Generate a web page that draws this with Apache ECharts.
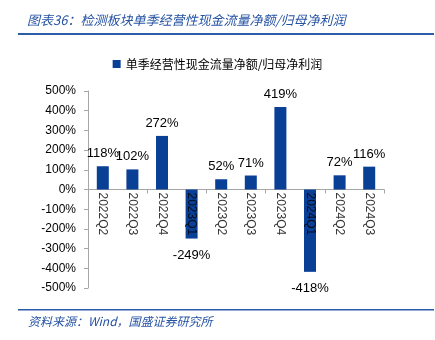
<!DOCTYPE html>
<html><head><meta charset="utf-8">
<script src="https://cdn.jsdelivr.net/npm/echarts@6/dist/echarts.min.js"></script>
<style>html,body{margin:0;padding:0;background:#fff}#c{width:435px;height:340px}</style>
</head><body><div id="c"></div>
<script>
const categories = ['2022Q2','2022Q3','2022Q4','2023Q1','2023Q2','2023Q3','2023Q4','2024Q1','2024Q2','2024Q3'];
const ratioValues = [118, 102, 272, -249, 52, 71, 419, -418, 72, 116];
const yTicks = {min: -500, max: 500, interval: 100};
const seriesName = '单季经营性现金流量净额/归母净利润';
const titleText = '图表36：检测板块单季经营性现金流量净额/归母净利润';
const sourceText = '资料来源：Wind，国盛证券研究所';

const blue = '#0A3F96';
const textBlue = '#2552A3';
const chart = echarts.init(document.getElementById('c'), null, {renderer: 'canvas'});
chart.setOption({
  animation: false,
  textStyle: {fontFamily: '"Liberation Sans", "Noto Sans CJK SC", sans-serif'},
  grid: {left: 88, right: 51, top: 91, bottom: 52},
  legend: {
    top: 53, left: 'center', itemWidth: 8, itemHeight: 8, icon: 'rect',
    textStyle: {fontSize: 12, color: '#000', fontFamily: '"Noto Sans CJK SC", sans-serif'},
    data: [seriesName]
  },
  graphic: [
    {type: 'text', left: 27, top: 14, style: {text: titleText, fill: textBlue, font: 'italic 13px "Noto Sans CJK SC", sans-serif'}},
    {type: 'rect', shape: {x: 18, y: 33, width: 416, height: 2}, style: {fill: '#2A5CAA'}},
    {type: 'rect', shape: {x: 18, y: 309, width: 416, height: 1.5}, style: {fill: '#2A5CAA'}},
    {type: 'text', left: 28, top: 315, style: {text: sourceText, fill: textBlue, font: 'italic 12px "Noto Sans CJK SC", sans-serif'}}
  ],
  xAxis: {
    type: 'category', data: categories,
    axisLine: {onZero: true, lineStyle: {color: '#A6A6A6'}},
    axisTick: {show: true, length: 4, lineStyle: {color: '#A6A6A6'}},
    axisLabel: {show: false}
  },
  yAxis: {
    type: 'value', min: yTicks.min, max: yTicks.max, interval: yTicks.interval,
    axisLine: {show: true, lineStyle: {color: '#A6A6A6'}},
    axisTick: {show: true, length: 4, lineStyle: {color: '#A6A6A6'}},
    splitLine: {show: false},
    axisLabel: {color: '#000', fontSize: 12, margin: 12, formatter: v => v + '%'}
  },
  series: [{
    name: seriesName, type: 'bar', barWidth: 12,
    itemStyle: {color: blue},
    data: ratioValues.map(v => ({
      value: v,
      label: {show: true, position: v < 0 ? 'bottom' : 'top', distance: v < 0 ? 10 : 6,
              formatter: p => p.value + '%', color: '#000', fontSize: 13}
    }))
  }, {
    name: 'catLabels', type: 'scatter', symbolSize: 0, z: 10, silent: true,
    data: categories.map(c => [c, 0]),
    label: {
      show: true, position: [0, 3], rotate: -90, align: 'left', verticalAlign: 'middle',
      formatter: p => p.value[0], color: '#000', fontSize: 12
    }
  }]
});
</script></body></html>
